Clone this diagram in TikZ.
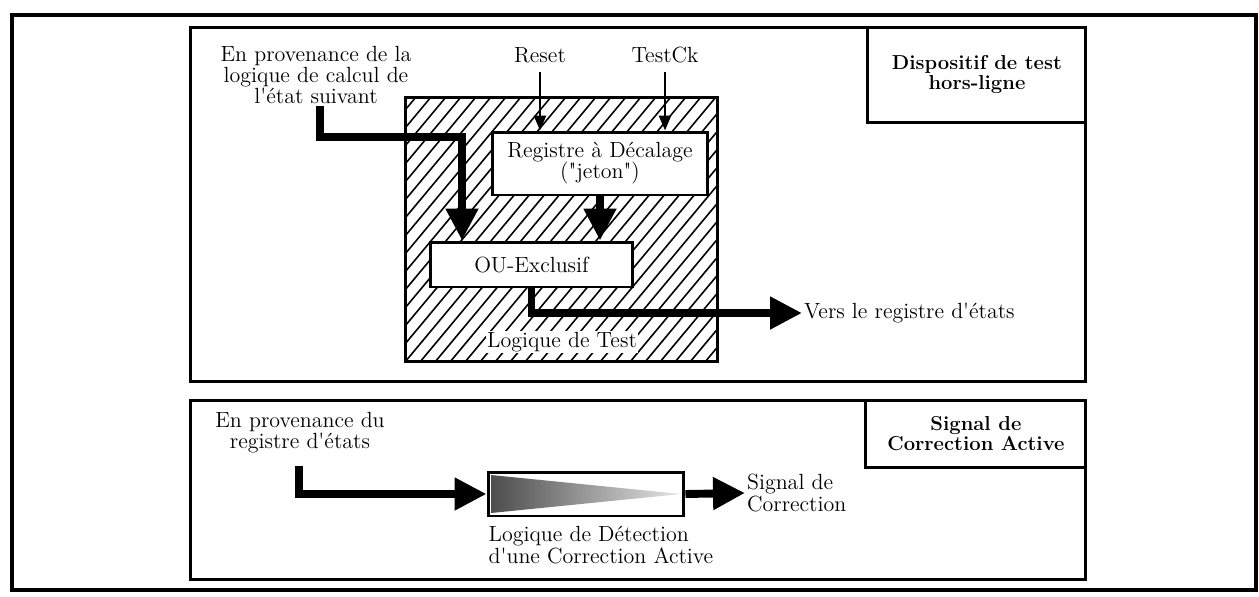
\documentclass[tikz,border=0pt]{standalone}
\usepackage{tikz}
\usetikzlibrary{arrows.meta,positioning}

\begin{document}
\begin{tikzpicture}[x=0.02cm, y=-0.02cm,
  lbl/.style={font=\fontsize{12.5}{12}\selectfont, inner sep=1pt},
  tag/.style={draw, line width=1.7pt, fill=white, align=center, inner sep=0pt,
    font=\fontsize{11.5}{11.5}\selectfont\bfseries},
  panel/.style={draw, line width=1.7pt, inner sep=0pt},
  unit/.style={draw, line width=1.7pt, fill=white, align=center, inner sep=0pt,
    font=\fontsize{12.5}{12}\selectfont},
  bigarrow/.style={line width=4.5pt, line join=miter, -{Triangle[length=0.64cm,width=0.62cm]}},
  thinarrow/.style={line width=1.4pt, -{Triangle[length=0.3cm,width=0.24cm]}},
  hatchline/.style={line width=0.9pt}]
  \useasboundingbox (0,0) rectangle (1259,596);

  %% Outer frame and the two panels
  \draw[line width=2pt] (12,15) rectangle (1256,590);
  \node[panel, minimum width=17.92cm, minimum height=7.1cm] (panelA) at (638,204.5) {};
  \node[panel, minimum width=17.92cm, minimum height=3.6cm] (panelB) at (638,490) {};
  \node[tag, anchor=north east, minimum width=4.36cm, minimum height=1.9cm] (tagA)
    at (panelA.north east) {Dispositif de test\\hors-ligne};
  \node[tag, anchor=north east, minimum width=4.4cm, minimum height=1.34cm] (tagB)
    at (panelB.north east) {Signal de\\Correction Active};

  %% Test logic block -- hatching first, white boxes on top
  \begin{scope}
    \clip (405,97) rectangle (718,362);
    \foreach \k in {-15,...,21}
      \draw[hatchline] ({405+15*\k},362) -- ++(221,-265);
  \end{scope}
  \node[panel, minimum width=6.26cm, minimum height=5.3cm] (test) at (561.5,229.5) {};
  \node[unit, minimum width=4.32cm, minimum height=1.26cm] (reg) at (600,163.5)
    {Registre à Décalage\\(\textquotedbl jeton\textquotedbl)};
  \node[unit, minimum width=4.06cm, minimum height=0.9cm] (ou) at (531.5,264.5) {OU-Exclusif};
  \node[lbl, fill=white, inner sep=0.5pt] (testlbl) at (562,342) {Logique de Test};

  %% Inputs and output of the test logic
  \node[lbl, align=center] (srcA) at (316,75)
    {En provenance de la\\logique de calcul de\\l\textquotesingle état suivant};
  \node[lbl] (reset) at (540,55) {Reset};
  \node[lbl] (testck) at (665,55) {TestCk};
  \draw[thinarrow] ([yshift=-4pt]reset.south) -- (reset.south |- reg.north);
  \draw[thinarrow] ([yshift=-4pt]testck.south) -- (testck.south |- reg.north);

  \coordinate (inA) at (320,106);
  \coordinate (bendA) at (462,137);
  \draw[bigarrow] (inA) |- (bendA) -- (bendA |- ou.north);
  \draw[bigarrow] (reg.south) -- (reg.south |- ou.north);

  \node[lbl, anchor=west] (vers) at (802,313) {Vers le registre d\textquotesingle états};
  \draw[bigarrow] (ou.south) |- (vers.west);

  %% Active correction detection
  \node[lbl, align=center] (srcB) at (300,433) {En provenance du\\registre d\textquotesingle états};
  \node[unit, minimum width=3.92cm, minimum height=0.88cm] (det) at (586,494) {};
  \shade[left color=black!70, right color=black!10] (491,475) -- (491,513) -- (681,494) -- cycle;
  \node[lbl, align=left, anchor=north west] (detlbl) at ([yshift=-4pt]det.south west)
    {Logique de Détection\\d\textquotesingle une Correction Active};
  \node[lbl, align=left, anchor=west] (sig) at (745,493) {Signal de\\Correction};

  \coordinate (inB) at (299,466);
  \draw[bigarrow] (inB) |- (det.west);
  \draw[bigarrow] (det.east) -- (sig.west);
\end{tikzpicture}
\end{document}
